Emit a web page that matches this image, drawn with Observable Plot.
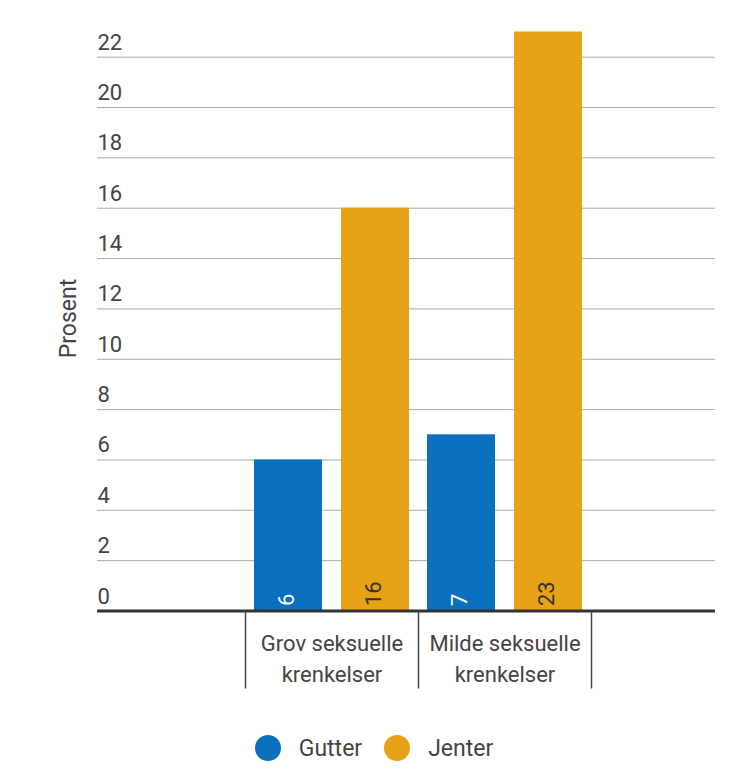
<!DOCTYPE html>
<html>
<head>
<meta charset="utf-8">
<script src="https://cdn.jsdelivr.net/npm/d3@7"></script>
<script src="https://cdn.jsdelivr.net/npm/@observablehq/plot@0.6"></script>
<style>
  html, body { margin: 0; padding: 0; background: #fff; }
  body { width: 748px; height: 776px; font-family: Roboto, sans-serif; }
  #chart svg { display: block; }
  .legend { height: 56px; display: flex; align-items: center; justify-content: center; font-family: Roboto, sans-serif; font-size: 23px; color: #444; }
  .legend .item { display: flex; align-items: center; margin: 0 11px; }
  .legend .dot { width: 26px; height: 26px; border-radius: 50%; margin-right: 18px; }
</style>
</head>
<body>
<div id="chart"></div>
<div class="legend" id="legend"></div>
<script>
const categories = ["Grov seksuelle\nkrenkelser", "Milde seksuelle\nkrenkelser"];
const series = ["Gutter", "Jenter"];
const gutter = [6, 7];
const jenter = [16, 23];
const yTicks = [0, 2, 4, 6, 8, 10, 12, 14, 16, 18, 20, 22];
const colors = {Gutter: "#0a6fbd", Jenter: "#e7a117"};
const labelColors = {Gutter: "#ffffff", Jenter: "#333333"};

const data = [];
categories.forEach((c, i) => {
  data.push({category: c, series: "Gutter", value: gutter[i]});
  data.push({category: c, series: "Jenter", value: jenter[i]});
});
const G = data.filter(d => d.series === "Gutter");
const J = data.filter(d => d.series === "Jenter");

const font = "Roboto, sans-serif";
const chart = Plot.plot({
  width: 748,
  height: 720,
  marginLeft: 97,
  marginRight: 33,
  marginTop: 31.5,
  marginBottom: 109.5,
  style: {fontFamily: font, background: "#fff"},
  x: {domain: categories, range: [245, 591], padding: 0, axis: null},
  y: {domain: [0, 23], axis: null},
  marks: [
    Plot.ruleY(yTicks, {stroke: "#aaaaaa", strokeWidth: 1}),
    Plot.text(yTicks, {y: d => d, text: d => String(d), frameAnchor: "left", textAnchor: "start", lineAnchor: "bottom", dy: -7.5, fontSize: 22, fill: "#444"}),
    Plot.barY(G, {x: "category", y: "value", fill: colors.Gutter, insetLeft: 9, insetRight: 96}),
    Plot.barY(J, {x: "category", y: "value", fill: colors.Jenter, insetLeft: 96, insetRight: 9}),
    Plot.text(G, {x: "category", y: 0, text: d => String(d.value), rotate: -90, textAnchor: "start", dx: -45.5, dy: -5, fontSize: 22, fill: labelColors.Gutter}),
    Plot.text(J, {x: "category", y: 0, text: d => String(d.value), rotate: -90, textAnchor: "start", dx: 41.5, dy: -5, fontSize: 22, fill: labelColors.Jenter}),
    Plot.ruleY([0], {stroke: "#333", strokeWidth: 3}),
    Plot.ruleX(categories, {x: d => d, y1: 0, y2: 0, insetBottom: -78, dx: -86.5, stroke: "#444", strokeWidth: 1.5}),
    Plot.ruleX(categories.slice(-1), {x: d => d, y1: 0, y2: 0, insetBottom: -78, dx: 86.5, stroke: "#444", strokeWidth: 1.5}),
    Plot.text(categories, {x: d => d, frameAnchor: "bottom", lineAnchor: "top", dy: 17.5, lineHeight: 1.41, fontSize: 22, fill: "#444"}),
    Plot.text(["Prosent"], {frameAnchor: "left", textAnchor: "middle", dx: -29, dy: -3, rotate: -90, text: d => d, fontSize: 23, fill: "#444"})
  ]
});
document.getElementById("chart").appendChild(chart);

const legend = document.getElementById("legend");
series.forEach(s => {
  const item = document.createElement("div");
  item.className = "item";
  const dot = document.createElement("span");
  dot.className = "dot";
  dot.style.background = colors[s];
  const label = document.createElement("span");
  label.textContent = s;
  item.appendChild(dot);
  item.appendChild(label);
  legend.appendChild(item);
});
</script>
</body>
</html>
